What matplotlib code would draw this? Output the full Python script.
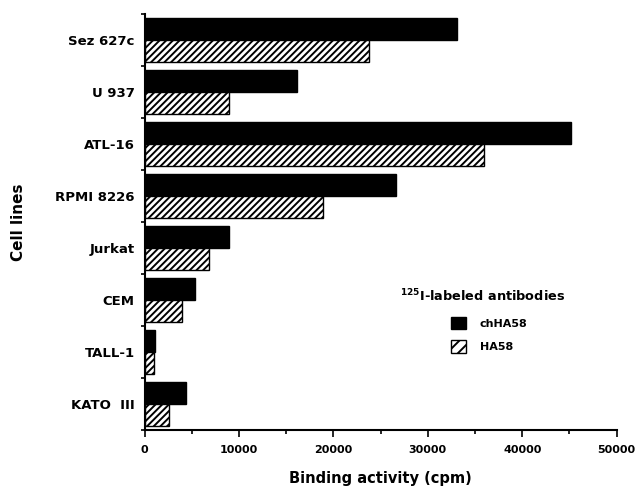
import matplotlib
matplotlib.use("Agg")
import matplotlib.pyplot as plt
from matplotlib.patches import Patch
from matplotlib.ticker import MultipleLocator, FixedLocator, NullFormatter
import numpy as np

cell_lines = ["Sez 627c", "U 937", "ATL-16", "RPMI 8226", "Jurkat", "CEM", "TALL-1", "KATO  III"]
chHA58 = [33100, 16100, 45200, 26600, 9000, 5350, 1150, 4400]
HA58 = [23800, 8900, 36000, 18900, 6800, 4000, 1000, 2600]
x_ticks = [0, 10000, 20000, 30000, 40000, 50000]

plt.rcParams['font.family'] = ['DejaVu Sans']
plt.rcParams['font.weight'] = 'bold'
plt.rcParams['hatch.linewidth'] = 1.4

fig = plt.figure(figsize=(6.4, 4.91), dpi=100)
ax = fig.add_axes([144.5/640, 61/491, 472.2/640, 416/491])

y = np.arange(len(cell_lines))
h = 0.42
ax.barh(y - h/2, chHA58, height=h, color='black', edgecolor='black', linewidth=1.0)
ax.barh(y + h/2, HA58, height=h, color='white', edgecolor='black', hatch='/////', linewidth=1.0)

ax.set_xlim(0, 50000)
ax.set_ylim(len(cell_lines) - 0.5, -0.5)

ax.set_xticks(x_ticks)
ax.set_xticklabels([str(v) for v in x_ticks], fontsize=8, fontweight='bold')
ax.xaxis.set_minor_locator(MultipleLocator(5000))
ax.tick_params(axis='x', which='major', direction='out', length=5, width=1.2, pad=6)
ax.tick_params(axis='x', which='minor', direction='out', length=3, width=1.2)

ax.set_yticks(y)
ax.set_yticklabels(cell_lines, fontsize=9.5, fontweight='bold')
ax.tick_params(axis='y', which='major', length=0, pad=7)
ax.yaxis.set_minor_locator(FixedLocator(np.arange(-0.5, len(cell_lines), 1.0)))
ax.yaxis.set_minor_formatter(NullFormatter())
ax.tick_params(axis='y', which='minor', direction='out', length=3, width=1.2)

for s in ['top', 'right']:
    ax.spines[s].set_visible(False)
for s in ['left', 'bottom']:
    ax.spines[s].set_linewidth(1.5)

fig.text(380/640, 1 - 478/491, "Binding activity (cpm)", fontsize=10.5, fontweight='bold',
         ha='center', va='center')
fig.text(19/640, 1 - 222/491, "Cell lines", fontsize=11, fontweight='bold',
         ha='center', va='center', rotation=90)

ax.text(0.715, 0.322, r"$^{125}$I-labeled antibodies", transform=ax.transAxes,
        fontsize=9.3, fontweight='bold', ha='center', va='center')
handles = [Patch(facecolor='black', edgecolor='black', label='chHA58'),
           Patch(facecolor='white', edgecolor='black', hatch='///', label='HA58')]
leg = ax.legend(handles=handles, loc='upper left', bbox_to_anchor=(0.649, 0.272), frameon=False,
                prop={'size': 8, 'weight': 'bold'}, borderaxespad=0, borderpad=0,
                handlelength=1.35, handleheight=1.35, handletextpad=1.25, labelspacing=1.0)

fig.savefig("out.png", dpi=100)
